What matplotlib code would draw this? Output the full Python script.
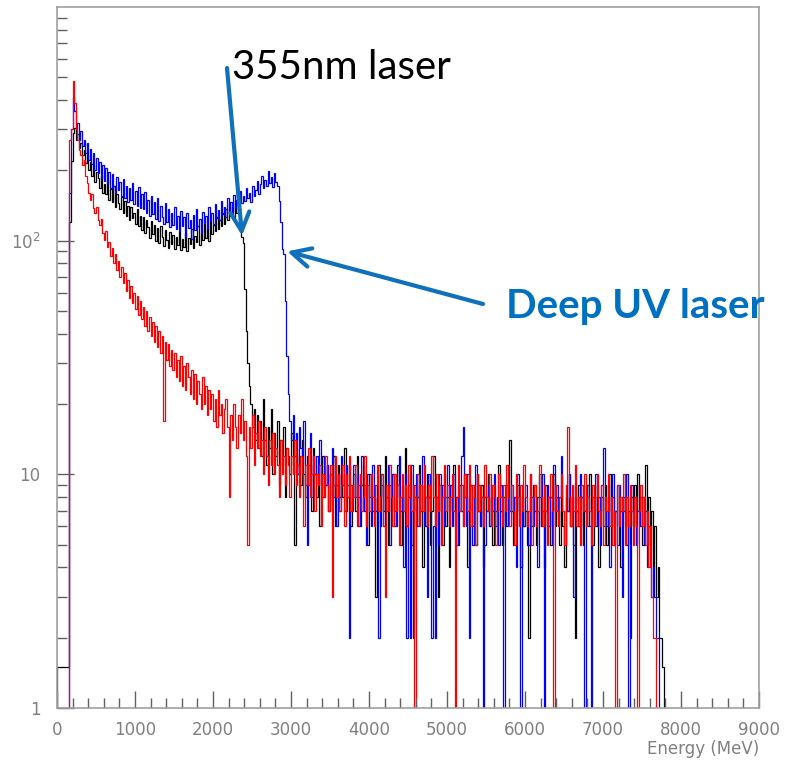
import matplotlib
matplotlib.use("Agg")

import numpy as np
import matplotlib.pyplot as plt
from matplotlib.ticker import FixedLocator, FixedFormatter, MultipleLocator, LogLocator, NullFormatter

# Energy spectra, 20 MeV bins starting at 0 MeV
bin_width = 20

black_counts = [
    1.5, 1.5, 1.5, 1.5, 1.5, 1.5, 1.5, 1.5, 120, 220, 290, 305, 270, 285, 250, 262, 232, 245, 215, 236,
    200, 218, 190, 212, 178, 196, 185, 168, 190, 160, 175, 158, 181, 150, 166, 147, 171, 140, 158, 145,
    136, 154, 131, 148, 127, 141, 122, 139, 125, 132, 118, 136, 115, 128, 111, 126, 108, 123, 114, 103,
    121, 107, 117, 100, 113, 98, 116, 104, 95, 111, 101, 93, 109, 97, 106, 92, 104, 96, 110, 91,
    102, 94, 108, 90, 103, 97, 112, 93, 105, 99, 115, 96, 108, 101, 118, 103, 113, 100, 121, 107,
    117, 110, 126, 112, 123, 115, 131, 118, 137, 122, 145, 127, 140, 124, 150, 131, 138, 122, 104, 98,
    62, 41, 30, 24, 20, 16, 19, 14, 18, 13, 17, 12, 21, 14, 11, 16, 13, 19, 10, 15,
    12, 17, 9, 14, 11, 16, 8, 13, 12, 10, 15, 11, 5, 13, 10, 12, 9, 14, 10, 8,
    12, 9, 11, 7, 13, 10, 8, 11, 6, 10, 12, 8, 9, 11, 7, 10, 8, 12, 6, 9,
    11, 7, 10, 8, 13, 7, 9, 11, 6, 8, 10, 7, 12, 8, 6, 9, 11, 7, 9, 5,
    10, 8, 7, 9, 3, 8, 11, 6, 9, 7, 12, 8, 5, 9, 7, 10, 6, 8, 11, 7,
    5, 9, 7, 13, 6, 8, 10, 5, 7, 9, 6, 8, 11, 7, 4, 9, 6, 10, 8, 5,
    7, 12, 6, 8, 3, 9, 7, 5, 10, 6, 8, 4, 9, 7, 11, 6, 8, 5, 9, 7,
    6, 10, 8, 4, 7, 9, 6, 8, 5, 10, 7, 6, 9, 4, 8, 7, 10, 6, 8, 5,
    9, 7, 6, 11, 7, 5, 8, 6, 9, 7, 14, 7, 5, 8, 6, 9, 7, 4, 8, 6,
    7, 5, 2, 8, 6, 9, 7, 5, 8, 10, 6, 7, 4, 9, 6, 8, 5, 7, 10, 6,
    8, 7, 5, 9, 6, 4, 8, 7, 10, 6, 8, 5, 2, 7, 9, 6, 8, 5, 7, 9,
    6, 10, 7, 5, 8, 6, 9, 4, 7, 8, 6, 9, 5, 7, 10, 6, 8, 5, 7, 9,
    6, 4, 8, 7, 10, 5, 7, 2, 8, 6, 9, 7, 10, 6, 8, 5, 7, 11, 6, 8,
    5, 7, 4, 6, 3, 4, 2, 2, 1.5,
]

blue_counts = [
    1, 1, 1, 1, 1, 1, 1, 1, 160, 300, 410, 360, 300, 320, 270, 295, 255, 270, 238, 262,
    222, 246, 212, 238, 200, 226, 195, 218, 186, 210, 180, 204, 176, 197, 168, 192, 172, 160, 188, 164,
    178, 155, 183, 152, 171, 147, 168, 150, 176, 144, 163, 141, 170, 138, 158, 136, 162, 132, 150, 128,
    155, 130, 146, 124, 152, 121, 141, 126, 118, 145, 120, 137, 114, 132, 117, 140, 112, 128, 110, 134,
    115, 126, 104, 131, 113, 122, 102, 129, 111, 136, 116, 124, 108, 133, 119, 127, 112, 140, 121, 131,
    118, 143, 125, 135, 122, 148, 130, 139, 126, 152, 135, 146, 131, 157, 138, 150, 142, 163, 145, 155,
    148, 168, 152, 160, 147, 172, 156, 165, 180, 158, 175, 190, 168, 182, 172, 198, 176, 188, 170, 194,
    178, 172, 148, 120, 92, 88, 55, 32, 22, 17, 14, 18, 12, 15, 10, 16, 13, 11, 17, 9,
    5, 11, 15, 8, 12, 10, 12, 9, 14, 10, 8, 12, 9, 11, 7, 10, 13, 8, 11, 6,
    10, 8, 12, 9, 7, 11, 8, 2, 9, 7, 11, 8, 10, 6, 9, 12, 7, 9, 5, 10,
    8, 6, 11, 8, 7, 9, 2, 8, 10, 6, 9, 7, 11, 5, 8, 10, 7, 6, 9, 12,
    7, 8, 4, 10, 2, 9, 2, 11, 2, 8, 10, 6, 9, 7, 12, 6, 8, 3, 10, 7,
    2, 6, 2, 8, 5, 10, 7, 9, 6, 8, 11, 7, 9, 6, 10, 8, 5, 9, 7, 12,
    16, 8, 6, 10, 2, 9, 5, 8, 11, 7, 9, 6, 8, 1, 5, 7, 9, 6, 8, 7,
    10, 6, 8, 5, 9, 7, 1, 8, 6, 11, 7, 9, 6, 8, 4, 10, 7, 1, 8, 6,
    9, 7, 5, 10, 8, 6, 9, 7, 4, 8, 6, 10, 1, 7, 9, 6, 8, 5, 11, 7,
    9, 6, 8, 12, 7, 5, 9, 7, 10, 6, 8, 3, 9, 7, 6, 10, 8, 5, 1, 7,
    9, 6, 1, 8, 7, 10, 6, 8, 5, 9, 13, 7, 6, 9, 4, 8, 10, 6, 7, 5,
    9, 7, 3, 8, 6, 10, 1, 7, 9, 6, 8, 5, 7, 9, 6, 8, 5, 7, 4, 6,
    5, 3, 4, 3, 2, 2,
]

red_counts = [
    1, 1, 1, 1, 1, 1, 1, 1, 270, 300, 480, 390, 300, 270, 245, 232, 210, 222, 190, 176,
    160, 150, 158, 138, 131, 140, 122, 117, 124, 108, 101, 110, 94, 99, 86, 93, 80, 88, 75, 82,
    70, 77, 66, 73, 61, 68, 57, 64, 54, 60, 51, 58, 48, 55, 46, 52, 43, 50, 41, 47,
    39, 45, 37, 43, 35, 41, 33, 39, 17, 37, 31, 36, 29, 34, 28, 33, 26, 31, 25, 32,
    24, 29, 23, 30, 26, 22, 28, 21, 27, 20, 25, 22, 19, 26, 20, 24, 18, 23, 19, 22,
    17, 21, 16, 23, 18, 20, 15, 19, 21, 16, 8, 18, 14, 20, 16, 13, 18, 15, 21, 14,
    17, 12, 5, 16, 13, 18, 11, 15, 13, 17, 12, 14, 10, 16, 12, 9, 14, 11, 15, 10,
    13, 11, 8, 14, 10, 12, 9, 13, 11, 8, 12, 10, 14, 9, 11, 8, 12, 10, 6, 11,
    9, 13, 8, 10, 12, 7, 10, 9, 11, 6, 10, 8, 12, 9, 7, 11, 3, 9, 12, 8,
    10, 7, 9, 11, 6, 10, 8, 12, 7, 9, 8, 11, 6, 9, 10, 7, 8, 12, 6, 9,
    7, 10, 8, 6, 9, 11, 7, 8, 10, 6, 3, 9, 7, 11, 8, 6, 10, 7, 9, 5,
    8, 10, 7, 9, 6, 11, 8, 7, 9, 1, 8, 10, 6, 9, 7, 11, 8, 6, 9, 7,
    12, 8, 6, 10, 7, 9, 5, 8, 11, 7, 9, 6, 8, 10, 7, 1, 8, 11, 7, 9,
    6, 10, 8, 7, 11, 6, 9, 8, 5, 10, 7, 9, 8, 6, 11, 8, 7, 10, 6, 9,
    8, 5, 7, 10, 8, 6, 9, 7, 11, 8, 6, 9, 7, 5, 10, 8, 6, 9, 7, 11,
    8, 6, 7, 10, 5, 8, 9, 6, 7, 11, 8, 6, 9, 7, 5, 8, 10, 7, 1, 9,
    7, 6, 8, 10, 7, 5, 9, 16, 8, 6, 9, 7, 11, 6, 8, 5, 9, 7, 10, 6,
    8, 7, 5, 9, 6, 8, 10, 7, 6, 9, 5, 8, 7, 10, 6, 8, 5, 7, 1, 9,
    6, 8, 7, 10, 5, 8, 6, 9, 7, 5, 8, 6, 1, 7, 9, 6, 8, 5, 7, 4,
    6, 3, 2, 2,
]

x_ticks = [0, 1000, 2000, 3000, 4000, 5000, 6000, 7000, 8000, 9000]
y_ticks = [1, 10, 100]
y_tick_labels = ["1", "10", "10$^2$"]

grey = "#808080"
arrow_blue = "#1070BC"

fig = plt.figure(figsize=(7.96, 7.61), dpi=100)
ax = fig.add_axes([0.0716, 0.0696, 0.8819, 0.9212])

for counts, color in [(black_counts, "black"), (blue_counts, "#0000ff"), (red_counts, "#ff0000")]:
    edges = np.arange(len(counts) + 1) * bin_width
    ax.stairs(counts, edges, baseline=1, color=color, lw=0.9)

ax.set_yscale("log")
ax.set_xlim(0, 9000)
ax.set_ylim(1, 1000)

ax.xaxis.set_major_locator(FixedLocator(x_ticks))
ax.xaxis.set_minor_locator(MultipleLocator(200))
ax.yaxis.set_major_locator(FixedLocator(y_ticks))
ax.yaxis.set_major_formatter(FixedFormatter(y_tick_labels))
ax.yaxis.set_minor_locator(LogLocator(base=10, subs=np.arange(2, 10)))
ax.yaxis.set_minor_formatter(NullFormatter())

ax.tick_params(which="both", direction="in", top=False, right=False, color="#606060", width=1.0)
ax.tick_params(which="major", length=12, labelsize=12, labelcolor=grey)
ax.tick_params(which="minor", length=7)
ax.tick_params(axis="x", which="major", pad=9)
ax.tick_params(axis="y", which="major", pad=12)

for side in ax.spines.values():
    side.set_color("#a0a0a0")
    side.set_linewidth(1.2)

ax.set_xlabel("Energy (MeV)", loc="right", color=grey, fontsize=12, labelpad=1)

# annotations
fig.text(0.292, 1 - 79 / 761, "355nm laser", fontsize=29, family="Lato",
         color="black", va="baseline", ha="left")
fig.text(0.636, 1 - 318 / 761, "Deep UV laser", fontsize=29, family="Lato",
         fontweight="bold", color="#0070C0", va="baseline", ha="left")

arrow_props = dict(arrowstyle="->", lw=3, color=arrow_blue, mutation_scale=34,
                   shrinkA=0, shrinkB=0)
ax.annotate("", xy=(2372, 105), xycoords="data",
            xytext=(227 / 796, 1 - 68 / 761), textcoords="figure fraction",
            arrowprops=arrow_props)
ax.annotate("", xy=(2950, 90), xycoords="data",
            xytext=(483 / 796, 1 - 304 / 761), textcoords="figure fraction",
            arrowprops=arrow_props)

fig.savefig("out.png", dpi=100)
